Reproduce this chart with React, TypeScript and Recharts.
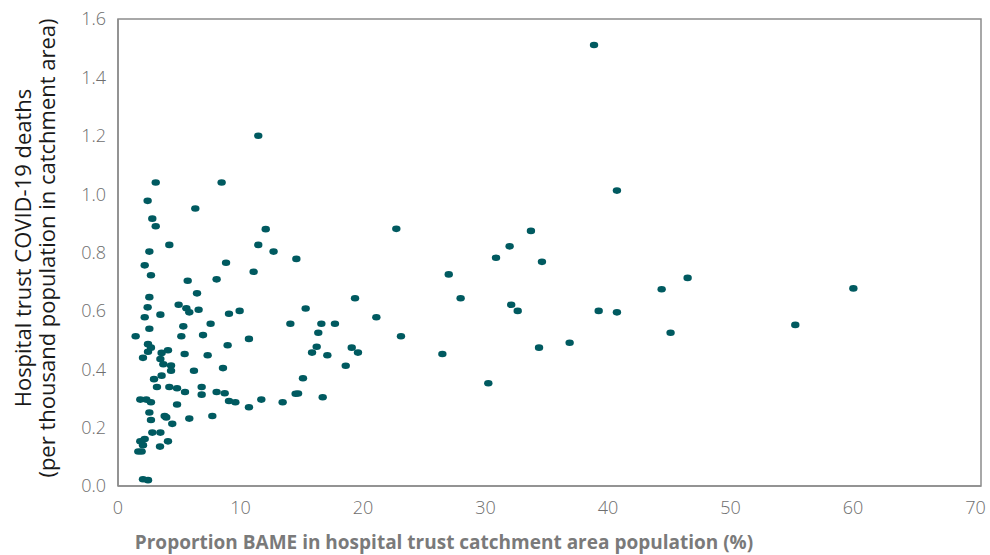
import { ScatterChart, Scatter, XAxis, YAxis, ReferenceArea } from 'recharts'

// % BAME in catchment area, deaths per thousand population
const bamePct = [
  11.45, 3.08, 8.46, 2.42, 6.31, 2.8, 3.08, 12.06, 4.19, 11.45,
  2.56, 12.7, 14.56, 2.18, 8.82, 2.69, 11.07, 5.69, 8.05, 6.45,
  2.56, 4.95, 2.42, 5.58, 5.82, 6.58, 9.93, 9.06, 3.46, 2.18,
  14.07, 7.56, 5.33, 2.56, 1.44, 5.17, 6.94, 10.69, 2.45, 8.95,
  2.69, 2.45, 3.56, 4.08, 5.44, 7.32, 2.04, 3.46, 3.7, 4.33,
  4.33, 8.57, 6.2, 3.56, 2.94, 3.18, 4.19, 4.82, 6.83, 5.47,
  6.83, 8.05, 8.71, 1.82, 2.31, 2.69, 9.06, 9.58, 11.7, 13.44,
  14.5, 14.7, 10.69, 4.82, 2.56, 3.81, 3.94, 5.82, 7.7, 2.69,
  4.43, 2.8, 3.46, 3.43, 4.08, 2.18, 1.82, 2.04, 1.66, 1.93,
  2.04, 2.45, 22.72, 30.86, 27.0, 19.35, 27.97, 15.32, 21.09, 16.6,
  17.71, 16.35, 23.1, 16.22, 19.08, 15.84, 17.09, 19.59, 26.48, 18.59,
  15.1, 30.23, 16.71, 38.86, 40.73, 33.71, 31.97, 34.61, 46.5, 44.38,
  32.1, 32.63, 39.24, 40.73, 45.11, 34.37, 36.87, 60.03, 55.29,
]

const deaths = [
  1.2, 1.04, 1.04, 0.977, 0.951, 0.916, 0.89, 0.88, 0.826, 0.826,
  0.803, 0.803, 0.778, 0.756, 0.765, 0.722, 0.734, 0.703, 0.708, 0.66,
  0.647, 0.621, 0.612, 0.609, 0.595, 0.604, 0.6, 0.59, 0.587, 0.578,
  0.556, 0.556, 0.547, 0.539, 0.513, 0.513, 0.517, 0.504, 0.486, 0.482,
  0.474, 0.46, 0.456, 0.465, 0.452, 0.448, 0.439, 0.435, 0.417, 0.413,
  0.395, 0.404, 0.395, 0.378, 0.366, 0.339, 0.339, 0.335, 0.339, 0.322,
  0.313, 0.322, 0.318, 0.296, 0.296, 0.287, 0.291, 0.287, 0.296, 0.287,
  0.316, 0.317, 0.27, 0.279, 0.252, 0.24, 0.235, 0.231, 0.24, 0.226,
  0.213, 0.183, 0.183, 0.135, 0.153, 0.161, 0.153, 0.14, 0.118, 0.118,
  0.023, 0.02, 0.881, 0.782, 0.725, 0.643, 0.643, 0.608, 0.578, 0.556,
  0.556, 0.525, 0.513, 0.477, 0.474, 0.457, 0.448, 0.457, 0.452, 0.412,
  0.369, 0.352, 0.304, 1.511, 1.012, 0.874, 0.821, 0.768, 0.713, 0.674,
  0.621, 0.6, 0.6, 0.595, 0.525, 0.474, 0.491, 0.677, 0.552,
]

const xTicks = [0, 10, 20, 30, 40, 50, 60, 70]
const yTicks = [0, 0.2, 0.4, 0.6, 0.8, 1.0, 1.2, 1.4, 1.6]

const X_MAX = 70.45
const Y_MAX = 1.6

const DOT = '#005a60'
const AXIS = '#8c8c8c'
const TICK = '#6e6e6e'
const FONT = '"Open Sans", sans-serif'

const points = bamePct.map((x, i) => ({ x, y: deaths[i] }))

const Dot = (props: any) => (
  <ellipse cx={props.cx} cy={props.cy} rx={4.2} ry={3.3} fill={DOT} />
)

export default function App() {
  return (
    <div style={{ position: 'absolute', left: 0, top: 0, width: 990, height: 555, background: '#fff' }}>
      <ScatterChart width={990} height={555} margin={{ top: 19, right: 9, bottom: 39, left: 0 }}>
        <XAxis
          type="number"
          dataKey="x"
          domain={[0, X_MAX]}
          ticks={xTicks}
          allowDataOverflow
          height={30}
          tickSize={0}
          tickMargin={15}
          axisLine={{ stroke: AXIS, strokeWidth: 1.5 }}
          tickLine={false}
          tick={{ fill: TICK, fontSize: 18, fontWeight: 300, fontFamily: FONT }}
        />
        <YAxis
          type="number"
          dataKey="y"
          domain={[0, Y_MAX]}
          ticks={yTicks}
          width={118}
          tickSize={0}
          tickMargin={12}
          tickFormatter={(v: number) => v.toFixed(1)}
          axisLine={{ stroke: AXIS, strokeWidth: 1.5 }}
          tickLine={false}
          tick={{ fill: TICK, fontSize: 18, fontWeight: 300, fontFamily: FONT }}
        />
        <ReferenceArea x1={0} x2={X_MAX} y1={0} y2={Y_MAX} fill="none" stroke={AXIS} strokeWidth={1.5} ifOverflow="visible" />
        <Scatter data={points} shape={Dot} isAnimationActive={false} />
      </ScatterChart>
      <svg width={990} height={555} style={{ position: 'absolute', left: 0, top: 0, pointerEvents: 'none' }}>
        <text x={22} y={248} transform="rotate(-90 22 248)" textAnchor="middle" dominantBaseline="central" fontFamily={FONT} fontSize={22} fill="#1a1a1a">
          Hospital trust COVID-19 deaths
        </text>
        <text x={46} y={248} transform="rotate(-90 46 248)" textAnchor="middle" dominantBaseline="central" fontFamily={FONT} fontSize={22} fill="#1a1a1a">
          (per thousand population in catchment area)
        </text>
        <text x={444} y={542} textAnchor="middle" dominantBaseline="central" fontFamily={FONT} fontWeight={700} fontSize={19} fill="#7a7a7a">
          Proportion BAME in hospital trust catchment area population (%)
        </text>
      </svg>
    </div>
  )
}
